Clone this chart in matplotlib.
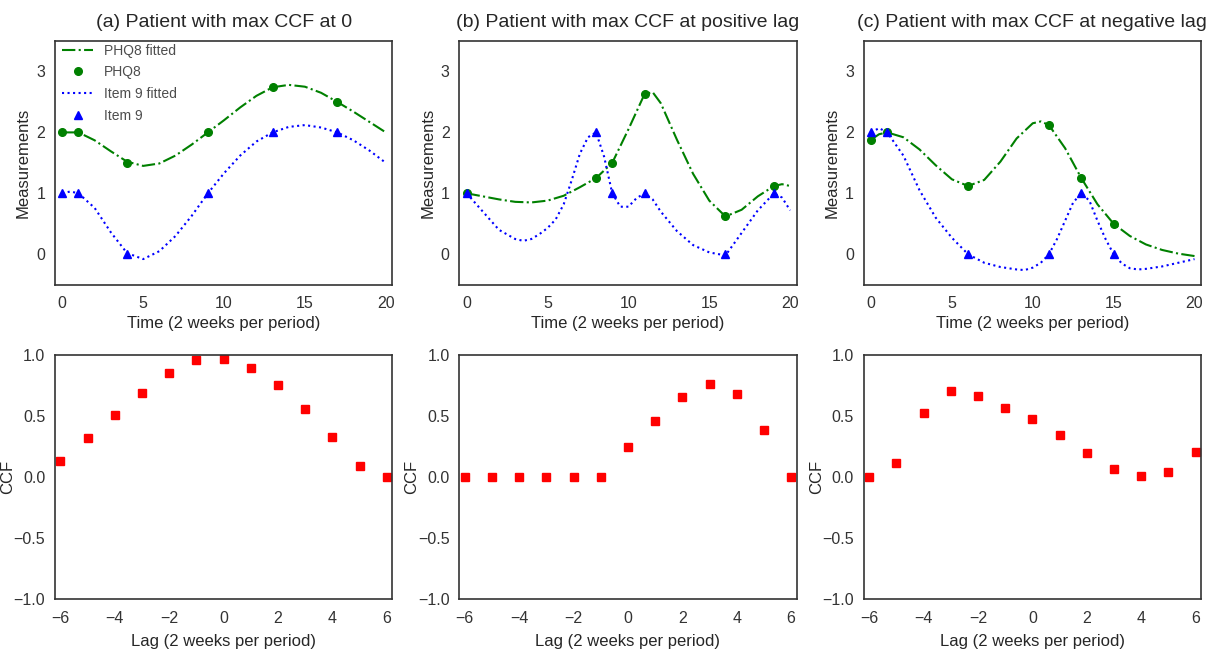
import matplotlib
matplotlib.use("Agg")
import matplotlib.pyplot as plt
import seaborn as sns

sns.set_style("white")
plt.rcParams['font.family'] = ['Liberation Sans', 'DejaVu Sans']

titles = ["(a) Patient with max CCF at 0",
          "(b) Patient with max CCF at positive lag",
          "(c) Patient with max CCF at negative lag"]

# observed measurements
phq8_t = [[0, 1, 4, 9, 13, 17],
          [0, 8, 9, 11, 16, 19],
          [0, 1, 6, 11, 13, 15]]
phq8_y = [[2, 2, 1.5, 2, 2.75, 2.5],
          [1, 1.25, 1.5, 2.63, 0.62, 1.12],
          [1.88, 2, 1.12, 2.12, 1.25, 0.5]]
item9_t = phq8_t
item9_y = [[1, 1, 0, 1, 2, 2],
           [1, 2, 1, 1, 0, 1],
           [2, 2, 0, 0, 1, 0]]

# fitted curves
phq8_fit_t = [list(range(21)),
              [0, 1, 2, 3, 4, 5, 6, 7, 8, 9, 10, 11, 11.5, 12, 13, 14, 15, 16, 17, 18, 19, 19.5, 20],
              [0, 0.5, 1, 2, 3, 4, 5, 6, 7, 8, 9, 10, 10.5, 11, 12, 13, 14, 15, 16, 17, 18, 19, 20]]
phq8_fit_y = [[2.0, 2.0, 1.87, 1.69, 1.52, 1.45, 1.49, 1.62, 1.8, 2.0, 2.2, 2.41, 2.6, 2.74, 2.78,
               2.75, 2.65, 2.5, 2.34, 2.17, 2.0],
              [1.0, 0.95, 0.9, 0.86, 0.85, 0.88, 0.96, 1.1, 1.25, 1.5, 2.05, 2.63, 2.66, 2.48, 1.88,
               1.32, 0.88, 0.62, 0.73, 0.95, 1.12, 1.15, 1.12],
              [1.88, 1.97, 2.0, 1.92, 1.72, 1.46, 1.23, 1.12, 1.22, 1.52, 1.9, 2.15, 2.18, 2.12, 1.74,
               1.25, 0.82, 0.5, 0.3, 0.16, 0.07, 0.01, -0.03]]
item9_fit_t = [[0, 0.5, 1, 2, 3, 4, 5, 6, 7, 8, 9, 10, 11, 12, 13, 14, 15, 16, 17, 18, 19, 20],
               [0, 1, 2, 3, 3.5, 4, 4.5, 5, 5.5, 6, 6.5, 7, 7.5, 8, 8.5, 9, 9.5, 10, 10.5, 11, 11.5,
                12, 13, 14, 15, 16, 17, 18, 19, 19.5, 20],
               [0, 0.5, 1, 2, 3, 4, 5, 6, 7, 8, 9, 9.5, 10, 10.5, 11, 11.5, 12, 12.5, 13, 13.5, 14,
                14.5, 15, 15.5, 16, 16.5, 17, 18, 19, 20]]
item9_fit_y = [[1.0, 1.03, 1.0, 0.76, 0.36, 0.02, -0.08, 0.05, 0.3, 0.63, 1.0, 1.33, 1.62, 1.85, 2.0,
                2.09, 2.12, 2.08, 2.0, 1.87, 1.7, 1.5],
               [1.0, 0.7, 0.4, 0.25, 0.22, 0.25, 0.33, 0.43, 0.57, 0.82, 1.22, 1.65, 1.92, 2.0, 1.6,
                1.0, 0.78, 0.78, 0.92, 1.0, 0.9, 0.7, 0.38, 0.15, 0.03, -0.02, 0.35, 0.72, 1.0, 0.93,
                0.72],
               [2.0, 2.07, 2.0, 1.62, 1.05, 0.6, 0.27, 0.0, -0.14, -0.21, -0.25, -0.26, -0.22, -0.14,
                0.0, 0.25, 0.55, 0.85, 1.0, 0.88, 0.55, 0.25, 0.0, -0.15, -0.23, -0.25, -0.24, -0.2,
                -0.14, -0.08]]

lags = list(range(-6, 7))
ccf = [[0.13, 0.32, 0.51, 0.69, 0.855, 0.96, 0.97, 0.90, 0.755, 0.56, 0.33, 0.09, 0.0],
       [0, 0, 0, 0, 0, 0, 0.247, 0.465, 0.655, 0.765, 0.68, 0.385, 0.0],
       [0.0, 0.117, 0.53, 0.705, 0.67, 0.57, 0.48, 0.35, 0.195, 0.065, 0.007, 0.045, 0.21]]

fig, axes = plt.subplots(2, 3, figsize=(12.28, 6.49), dpi=100)
fig.subplots_adjust(left=0.0448, right=0.978, top=0.9368, bottom=0.077, wspace=0.199, hspace=0.29)

for i in range(3):
    ax = axes[0, i]
    ax.plot(phq8_fit_t[i], phq8_fit_y[i], color='g', linestyle='-.', lw=1.5, label='PHQ8 fitted')
    ax.plot(phq8_t[i], phq8_y[i], 'o', color='g', ms=5.5, label='PHQ8')
    ax.plot(item9_fit_t[i], item9_fit_y[i], color='b', linestyle=':', lw=1.5, label='Item 9 fitted')
    ax.plot(item9_t[i], item9_y[i], '^', color='b', ms=5.5, label='Item 9')
    ax.set_xlim(-0.45, 20.4)
    ax.set_ylim(-0.5, 3.5)
    ax.set_xticks([0, 5, 10, 15, 20])
    ax.set_yticks([0, 1, 2, 3])
    ax.set_title(titles[i], fontsize=14, pad=10)
    ax.set_xlabel('Time (2 weeks per period)', fontsize=12, labelpad=3)
    ax.set_ylabel('Measurements', fontsize=12, labelpad=4)
    if i == 0:
        ax.legend(loc='upper left', fontsize=10, frameon=False, borderaxespad=0,
                  bbox_to_anchor=(0.005, 1.012), handlelength=2.2, labelspacing=0.55,
                  labelcolor='.3')

    ax2 = axes[1, i]
    ax2.plot(lags, ccf[i], 's', color='r', ms=6)
    ax2.set_xlim(-6.2, 6.2)
    ax2.set_ylim(-1.0, 1.0)
    ax2.set_xticks([-6, -4, -2, 0, 2, 4, 6])
    ax2.set_yticks([-1.0, -0.5, 0.0, 0.5, 1.0])
    ax2.set_xlabel('Lag (2 weeks per period)', fontsize=12, labelpad=6)
    ax2.set_ylabel('CCF', fontsize=12, labelpad=-1)

for ax in axes.flat:
    ax.tick_params(axis='x', labelsize=11.5, colors='.2', pad=5)
    ax.tick_params(axis='y', labelsize=11.5, colors='.2', pad=3.5)
    for s in ax.spines.values():
        s.set_color('.2')
        s.set_linewidth(1.2)

fig.savefig('out.png', dpi=100)
